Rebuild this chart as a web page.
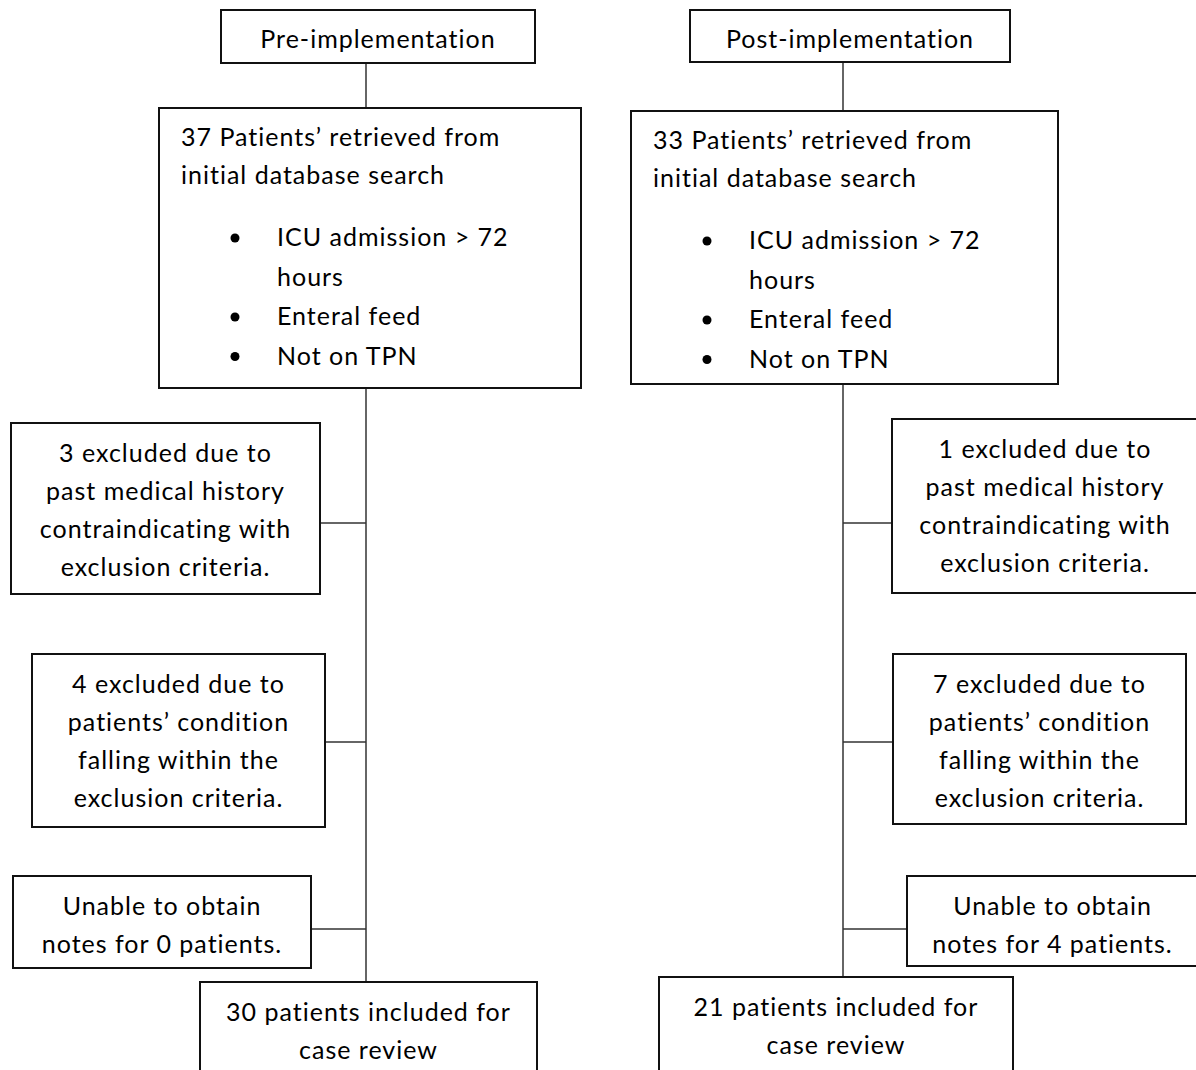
<!DOCTYPE html>
<html>
<head>
<meta charset="utf-8">
<script src="https://cdn.jsdelivr.net/npm/d3@7"></script>
<style>
  body { margin: 0; background: #fff; }
  text { font-family: Lato, "Open Sans", sans-serif; fill: #000; letter-spacing: 1px; }
</style>
</head>
<body>
<div id="chart"></div>
<script>
const arms = ['Pre-implementation', 'Post-implementation'];
const retrieved = [37, 33];
const criteria = ['ICU admission > 72', 'hours', 'Enteral feed', 'Not on TPN'];
const bulletStarts = [true, false, true, true];
const pmhExcluded = [3, 1];
const conditionExcluded = [4, 7];
const notesMissing = [0, 4];
const included = [30, 21];

const width = 1196;
const height = 1070;
const fontSize = 25;
const lineStep = 38.3;

// box geometry per arm: [x0, y0, x1, y1]
const layout = [
  {
    spine: 366,
    head: [221, 10, 535, 63],
    main: [159, 108, 581, 388],
    ex1: [11, 423, 320, 594], ex1y: 523,
    ex2: [32, 654, 325, 827], ex2y: 742,
    ex3: [13, 876, 311, 968], ex3y: 929,
    last: [200, 982, 537, 1078],
  },
  {
    spine: 843,
    head: [690, 10, 1010, 62],
    main: [631, 111, 1058, 384],
    ex1: [892, 419, 1198, 593], ex1y: 523,
    ex2: [893, 654, 1186, 824], ex2y: 742,
    ex3: [907, 876, 1198, 966], ex3y: 929,
    last: [659, 977, 1013, 1078],
  },
];

const svg = d3
  .select('#chart')
  .append('svg')
  .attr('width', width)
  .attr('height', height)
  .attr('viewBox', [0, 0, width, height]);

function box(b) {
  svg
    .append('rect')
    .attr('x', b[0])
    .attr('y', b[1])
    .attr('width', b[2] - b[0])
    .attr('height', b[3] - b[1])
    .attr('fill', '#fff')
    .attr('stroke', '#111')
    .attr('stroke-width', 2);
}

function line(x1, y1, x2, y2) {
  svg
    .append('line')
    .attr('x1', x1)
    .attr('y1', y1)
    .attr('x2', x2)
    .attr('y2', y2)
    .attr('stroke', '#333')
    .attr('stroke-width', 1.5);
}

function centredLines(b, lines) {
  const cx = (b[0] + b[2]) / 2;
  svg
    .append('g')
    .selectAll('text')
    .data(lines)
    .join('text')
    .attr('x', cx)
    .attr('y', (d, i) => b[1] + 38.5 + i * lineStep)
    .attr('text-anchor', 'middle')
    .style('font-size', fontSize + 'px')
    .text((d) => d);
}

arms.forEach((arm, a) => {
  const L = layout[a];

  // connectors first, so boxes sit over them
  line(L.spine, L.head[3], L.spine, L.main[1]);
  line(L.spine, L.main[3], L.spine, L.last[1]);
  const side = a === 0 ? 2 : 0;
  line(L.spine, L.ex1y, L.ex1[side], L.ex1y);
  line(L.spine, L.ex2y, L.ex2[side], L.ex2y);
  line(L.spine, L.ex3y, L.ex3[side], L.ex3y);

  box(L.head);
  svg
    .append('text')
    .attr('x', (L.head[0] + L.head[2]) / 2)
    .attr('y', L.head[1] + 38)
    .attr('text-anchor', 'middle')
    .style('font-size', fontSize + 'px')
    .text(arm);

  box(L.main);
  const intro = [`${retrieved[a]} Patients\u2019 retrieved from`, 'initial database search'];
  svg
    .append('g')
    .selectAll('text')
    .data(intro)
    .join('text')
    .attr('x', L.main[0] + 22)
    .attr('y', (d, i) => L.main[1] + 38 + i * lineStep)
    .style('font-size', fontSize + 'px')
    .text((d) => d);

  const listTop = L.main[1] + 138;
  const items = svg.append('g').selectAll('g').data(criteria).join('g');
  items
    .append('text')
    .attr('x', L.main[0] + 118)
    .attr('y', (d, i) => listTop + i * 39.5)
    .style('font-size', fontSize + 'px')
    .text((d) => d);
  items
    .filter((d, i) => bulletStarts[i])
    .append('circle')
    .attr('cx', L.main[0] + 76)
    .attr('cy', (d) => listTop + criteria.indexOf(d) * 39.5 - 8)
    .attr('r', 4.5)
    .attr('fill', '#000');

  box(L.ex1);
  centredLines(L.ex1, [
    `${pmhExcluded[a]} excluded due to`,
    'past medical history',
    'contraindicating with',
    'exclusion criteria.',
  ]);

  box(L.ex2);
  centredLines(L.ex2, [
    `${conditionExcluded[a]} excluded due to`,
    'patients\u2019 condition',
    'falling within the',
    'exclusion criteria.',
  ]);

  box(L.ex3);
  centredLines(L.ex3, ['Unable to obtain', `notes for ${notesMissing[a]} patients.`]);

  box(L.last);
  centredLines(L.last, [`${included[a]} patients included for`, 'case review']);
});
</script>
</body>
</html>
